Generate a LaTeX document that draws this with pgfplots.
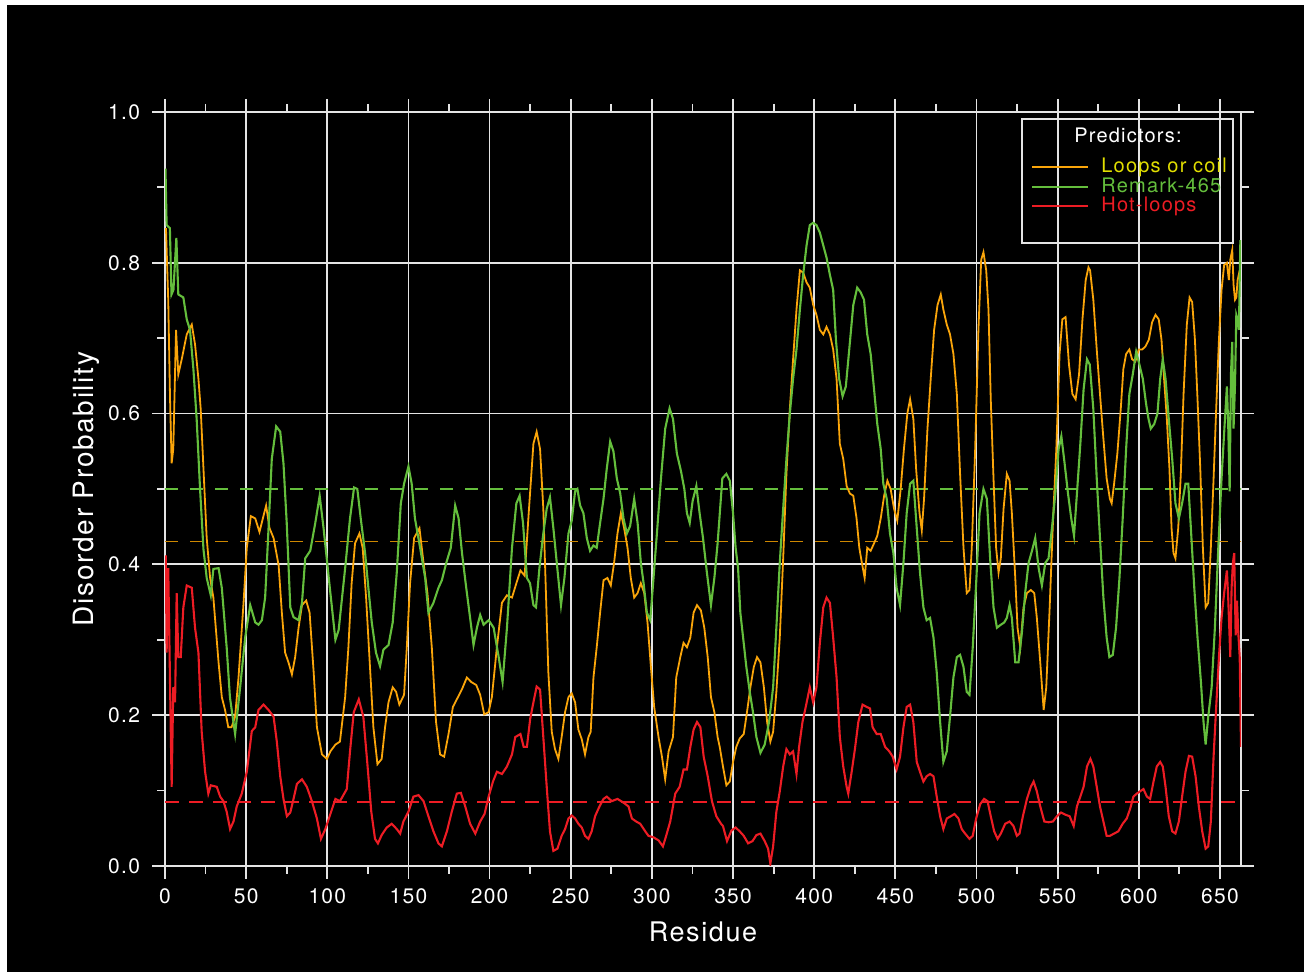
\documentclass[border=0pt]{standalone}
\usepackage{fontspec}
\setmainfont[LetterSpace=6]{TeX Gyre Heros}
\usepackage{pgfplots}
\pgfplotsset{compat=1.18}
\definecolor{cOrange}{RGB}{250,165,10}
\definecolor{cOrangeD}{RGB}{205,135,0}
\definecolor{cGreen}{RGB}{100,190,60}
\definecolor{cRed}{RGB}{237,28,36}
\definecolor{cYellow}{RGB}{225,222,0}
\definecolor{gridc}{RGB}{228,228,228}

\pgfplotstableread{
x y
0.6 0.846
2 0.75
3.1 0.62
4.1 0.534
5.1 0.553
6.8 0.711
8.2 0.652
10.3 0.672
13.4 0.705
16.5 0.718
18.5 0.692
20.6 0.646
22 0.606
23.7 0.527
25.7 0.435
27.8 0.382
29.8 0.356
33 0.27
35 0.224
37 0.207
39 0.184
41 0.184
43.2 0.198
45.3 0.25
48.4 0.349
50.4 0.422
52.9 0.464
55.6 0.461
58.2 0.443
60.3 0.461
62.3 0.478
64.4 0.448
66.9 0.435
70 0.399
72 0.336
74 0.283
76.1 0.27
78.2 0.254
80.2 0.277
82.3 0.316
84.4 0.346
87 0.352
89.1 0.336
91.6 0.257
93.6 0.184
96.7 0.148
99.8 0.142
101.9 0.152
105 0.161
107.8 0.165
111 0.224
113 0.29
115 0.375
117.1 0.428
119.8 0.441
121.8 0.422
123.9 0.356
126.3 0.264
128.4 0.184
130.9 0.135
133.5 0.142
135.6 0.184
137.7 0.217
140.3 0.237
142.4 0.231
144.4 0.214
147.3 0.227
149 0.29
151 0.375
153.5 0.435
156.8 0.448
159.3 0.402
161.7 0.362
164.4 0.29
167 0.191
169.5 0.148
172 0.145
174.7 0.175
177.4 0.211
179.8 0.221
182.9 0.234
186 0.25
188.7 0.244
191.8 0.240
194.2 0.227
196.7 0.201
199.4 0.204
201.4 0.224
204.5 0.29
207.6 0.349
210.7 0.359
213.8 0.356
216.5 0.375
219 0.392
221.6 0.385
224.1 0.468
227 0.56
229 0.576
231.1 0.553
233.1 0.474
234.8 0.356
236.2 0.257
238.3 0.178
240.3 0.155
242.4 0.142
244.4 0.171
246.5 0.204
248.6 0.224
250.6 0.229
252.7 0.217
254.7 0.181
256.8 0.168
258.8 0.148
260.9 0.171
262.3 0.178
264 0.25
266 0.29
268.1 0.336
270.2 0.379
272.6 0.382
274.7 0.372
276.7 0.402
278.8 0.441
280.9 0.468
282.9 0.448
285 0.422
287 0.382
289.1 0.356
291.2 0.362
293.2 0.375
295.3 0.362
297.3 0.323
299.4 0.264
301.4 0.211
304.1 0.171
306.2 0.145
308.2 0.115
310.3 0.152
313 0.171
315 0.25
317.5 0.277
319.5 0.296
321.6 0.29
323.7 0.303
325.7 0.336
327.8 0.346
330.2 0.339
332.3 0.316
334.4 0.277
336.4 0.224
338.5 0.204
340.5 0.171
341.8 0.158
343.8 0.132
345.9 0.107
348 0.112
350 0.138
352 0.158
354.1 0.169
356.6 0.175
358.6 0.204
360.7 0.237
362.8 0.264
364.8 0.277
366.9 0.27
369 0.237
371 0.191
373 0.165
374.7 0.178
376.7 0.231
378.8 0.303
380.9 0.408
382.9 0.52
385 0.606
387 0.672
389.1 0.738
391.2 0.79
393.2 0.787
395.3 0.774
397.3 0.767
399.4 0.744
401.4 0.731
403.5 0.711
405.6 0.705
407.6 0.715
409.7 0.705
411.7 0.685
413.8 0.646
415.8 0.56
417.9 0.54
420 0.504
422 0.494
424.1 0.491
426.1 0.461
427.8 0.422
429.4 0.402
431.1 0.382
432.7 0.422
434.8 0.418
436.9 0.428
438.9 0.438
441 0.461
443.1 0.491
445.1 0.511
447.1 0.5
449.2 0.474
451.2 0.458
453.3 0.5
455.3 0.553
457.4 0.6
459.1 0.619
461.1 0.593
462.8 0.527
464.9 0.468
466.3 0.445
467.7 0.487
469.8 0.58
471.8 0.646
473.9 0.711
476 0.744
478 0.758
479.6 0.738
481.7 0.718
483.7 0.705
485.8 0.679
487.9 0.626
489.9 0.52
492 0.422
494 0.362
495.7 0.366
497.1 0.422
499.2 0.553
501.2 0.711
502.9 0.804
504.3 0.814
506 0.79
507.4 0.738
508.8 0.619
510.5 0.514
512.1 0.422
513.6 0.389
515 0.408
516.7 0.474
518.7 0.52
520.4 0.511
521.8 0.468
523.9 0.382
525.3 0.316
527 0.29
529 0.343
531.1 0.362
533.5 0.366
535.6 0.362
537.2 0.329
539.3 0.27
541.4 0.207
543 0.237
545.1 0.343
547.1 0.455
549.2 0.553
551.2 0.679
552.9 0.725
554.9 0.728
557 0.665
559.1 0.626
561.1 0.619
563.2 0.652
565.3 0.725
567.3 0.777
569 0.794
570 0.79
572 0.751
574.1 0.685
576.1 0.626
578.2 0.567
580.2 0.514
582.2 0.487
583.3 0.481
584.8 0.507
586.8 0.547
588.9 0.606
590.5 0.659
592.2 0.679
594.2 0.685
595.9 0.672
597.9 0.669
600 0.685
602.1 0.685
604.1 0.689
606.2 0.698
608.2 0.721
610.3 0.731
612.3 0.725
614 0.698
615.6 0.646
617.3 0.593
618.9 0.527
620.2 0.448
621.4 0.415
622.6 0.408
624.3 0.448
625.9 0.52
627.6 0.626
629.6 0.718
631.3 0.754
632.9 0.748
634.6 0.698
636.2 0.619
637.9 0.527
639.5 0.422
641.2 0.343
642.8 0.349
644.4 0.422
646.1 0.514
647.7 0.606
649.4 0.698
651 0.764
652.6 0.797
654.3 0.8
655.5 0.777
656.4 0.804
657.6 0.817
658.4 0.771
659.3 0.751
660.1 0.754
660.9 0.777
662.2 0.79
}\loops

\pgfplotstableread{
x y
0.3 0.925
1 0.85
3 0.846
4 0.758
5.2 0.764
7 0.833
8.2 0.758
11.3 0.754
13.4 0.725
15.4 0.711
17.5 0.659
19.5 0.593
21.6 0.5
23.7 0.42
25.7 0.382
28.2 0.359
29.8 0.394
33 0.395
35 0.369
38 0.29
40 0.224
43.2 0.175
46.3 0.237
49.4 0.303
52.5 0.346
55.6 0.323
57.6 0.32
59.7 0.326
61.7 0.356
63.8 0.448
65.8 0.54
68.5 0.583
71 0.576
73 0.534
75 0.455
77.2 0.343
79.2 0.33
82.3 0.326
84.4 0.349
86.4 0.408
89.5 0.418
92.6 0.455
95.3 0.491
97.7 0.448
101.9 0.362
105 0.3
107 0.313
111 0.395
114 0.461
116.5 0.502
118.5 0.5
120.6 0.461
123.3 0.415
125.3 0.369
127.4 0.323
130 0.283
132.5 0.265
134.6 0.287
137.7 0.293
140.3 0.323
142.8 0.389
145.3 0.481
147.3 0.507
150 0.530
152 0.507
154 0.461
157.2 0.422
160.3 0.382
162.3 0.336
165.4 0.349
168.5 0.369
170.6 0.379
173.3 0.402
176.1 0.422
178.8 0.478
180.9 0.461
183 0.415
185.6 0.369
188 0.329
190.1 0.293
192.2 0.316
194.2 0.333
196.3 0.320
199.4 0.326
202.5 0.316
205.6 0.277
208 0.244
210.7 0.316
213.8 0.422
216.5 0.481
218.5 0.491
220.6 0.455
223 0.382
224.9 0.375
227 0.346
228.6 0.343
230.7 0.395
233.1 0.441
235.2 0.474
237.2 0.489
239.3 0.448
241.4 0.402
244 0.346
246.1 0.382
248.6 0.441
250.6 0.458
252.7 0.497
254.1 0.5
255.8 0.478
257.8 0.468
259.9 0.435
261.9 0.418
264 0.425
266 0.422
268.1 0.455
270.2 0.487
272.2 0.527
274.3 0.563
276.3 0.55
278.4 0.514
280.5 0.494
282.5 0.461
284.6 0.441
286.6 0.451
289.1 0.487
291.2 0.455
293.2 0.402
294.9 0.375
296.9 0.336
299 0.326
301 0.382
303.1 0.441
305.6 0.514
308.2 0.58
310.9 0.607
313 0.593
315.4 0.547
317.9 0.524
320 0.5
321.6 0.468
323.3 0.455
325.1 0.484
327.4 0.504
329.4 0.468
331.5 0.435
333.9 0.389
336.4 0.346
338.5 0.382
340.5 0.428
343.4 0.514
345.9 0.52
348 0.511
350 0.468
351.6 0.422
353.1 0.395
354.5 0.336
356.2 0.303
358.2 0.264
360.3 0.231
362.3 0.204
364.4 0.171
366.9 0.150
369.5 0.161
372.2 0.191
374.7 0.237
376.7 0.316
378.8 0.402
380.9 0.474
382.9 0.54
385 0.6
387 0.646
389.1 0.685
391.2 0.738
393.2 0.784
395.3 0.823
397.3 0.85
399.4 0.853
401.4 0.85
403.5 0.84
405.6 0.823
407.6 0.807
409.7 0.784
411.7 0.764
413.4 0.698
415.4 0.646
417.5 0.623
419.5 0.636
421.6 0.685
424.1 0.744
426.5 0.767
428.6 0.761
430.7 0.751
432.7 0.705
434.8 0.679
436.9 0.632
438.9 0.586
441 0.553
442.6 0.507
444.7 0.487
446.7 0.441
448.8 0.415
450.8 0.369
452.9 0.346
455 0.402
457 0.468
459.1 0.507
461.1 0.511
463.2 0.448
465.2 0.389
467.3 0.343
469.3 0.326
471.4 0.329
473.5 0.303
475.5 0.257
477.6 0.191
479.6 0.138
481.7 0.152
483.7 0.198
485.8 0.25
487.9 0.277
489.9 0.28
492 0.264
494 0.231
495.7 0.227
497.7 0.29
499.8 0.375
501.9 0.468
504.3 0.5
506.4 0.487
508.4 0.408
510.5 0.343
512.6 0.316
515 0.320
517.1 0.323
518.7 0.329
520.4 0.346
521.8 0.329
523.9 0.27
525.9 0.27
528 0.310
530 0.362
532.1 0.402
534.2 0.418
536.2 0.435
538.3 0.395
540.3 0.372
542.4 0.402
544.4 0.408
546.5 0.448
548.6 0.494
550.6 0.553
552.3 0.570
554.3 0.534
556.4 0.494
558.4 0.461
560.1 0.438
561.9 0.494
564 0.56
566 0.632
568.1 0.672
569.8 0.665
572 0.606
574.1 0.514
576.1 0.435
578.2 0.356
580.2 0.303
581.9 0.277
584 0.28
586 0.316
588.1 0.382
590.1 0.461
592.2 0.553
594.2 0.626
596.3 0.652
598.4 0.682
600.4 0.665
602.5 0.646
604.5 0.613
606 0.593
607.4 0.580
609.5 0.586
611.5 0.6
613.2 0.646
614.8 0.672
616.5 0.646
618.5 0.593
620.6 0.54
622.6 0.481
624.7 0.461
626.7 0.481
628.8 0.507
630.5 0.507
632.1 0.448
634.2 0.369
636.2 0.303
638.3 0.244
639.9 0.191
641.2 0.161
642.8 0.198
644.9 0.237
646.9 0.316
649 0.422
651 0.514
653.1 0.593
654.3 0.636
655.1 0.586
656 0.497
656.8 0.652
657.6 0.695
658.4 0.58
659.3 0.639
660.1 0.731
660.9 0.725
661.7 0.711
662.6 0.83
}\remark

\pgfplotstableread{
x y
0.5 0.412
1 0.283
2 0.395
3 0.257
4.1 0.105
5.1 0.237
6.2 0.217
7.2 0.362
8.2 0.277
9.7 0.277
11.3 0.343
13.4 0.372
16.5 0.369
18.5 0.316
20.6 0.283
22.6 0.178
24.7 0.125
26.7 0.096
28.2 0.107
31.9 0.105
34 0.092
36 0.086
38 0.072
40.1 0.049
42.2 0.059
44.2 0.079
47.3 0.096
50.4 0.125
53.5 0.179
55.6 0.184
57.6 0.207
60.7 0.214
63.8 0.207
66.9 0.198
68.9 0.165
71 0.119
73 0.089
75.1 0.066
77.2 0.071
79.2 0.089
81.3 0.109
84.4 0.115
87.4 0.105
90.5 0.086
93.6 0.063
96.1 0.036
98.8 0.049
101.9 0.069
105 0.089
107.8 0.086
112 0.102
114 0.152
116.3 0.204
119.4 0.221
122.2 0.198
124.6 0.138
127.1 0.072
129.4 0.036
131.2 0.030
133.5 0.041
136.6 0.051
139.7 0.056
142.8 0.049
144.9 0.043
146.9 0.059
150 0.072
153.1 0.092
156.2 0.094
159.3 0.086
162.3 0.066
165.4 0.046
168.5 0.030
170.6 0.026
173.7 0.046
176.7 0.072
179.8 0.096
182.3 0.097
185 0.079
188 0.056
191.2 0.043
194.2 0.059
196.9 0.069
199.4 0.092
202.1 0.112
204.5 0.125
207.6 0.122
210.7 0.132
213.8 0.148
215.8 0.171
219 0.175
221 0.158
223 0.158
225 0.195
227 0.217
229 0.238
231.1 0.234
233.1 0.171
235.2 0.105
237.2 0.046
239.3 0.020
241.8 0.023
244.4 0.040
246.5 0.049
248.6 0.063
250.6 0.067
252.7 0.063
254.7 0.056
256.8 0.051
258.8 0.040
260.9 0.036
262.9 0.046
265 0.066
267.7 0.079
270.2 0.089
272.2 0.092
275.3 0.086
278.8 0.089
282.5 0.084
285.6 0.079
287.7 0.063
290.3 0.059
292.8 0.056
295.9 0.046
297.9 0.040
301 0.038
304.1 0.034
306.8 0.026
308.8 0.040
311.3 0.059
314.4 0.096
317.1 0.105
319.5 0.128
321.6 0.128
323.7 0.158
325.7 0.181
327.8 0.191
329.9 0.184
331.9 0.145
334.4 0.119
337 0.086
339.7 0.066
342.6 0.056
343.8 0.053
346.3 0.033
349 0.047
351.6 0.051
354.1 0.046
356.6 0.040
359.3 0.030
362 0.033
364.4 0.041
366.9 0.043
369.5 0.033
371.6 0.023
373 0.003
374.7 0.026
376.7 0.072
378.8 0.099
380.9 0.132
382.9 0.155
385 0.148
387 0.152
389.1 0.122
390.7 0.158
392.8 0.191
394.8 0.211
397.3 0.237
399.4 0.217
401.4 0.237
403.5 0.296
405.6 0.343
407.6 0.356
409.7 0.349
411.7 0.303
413.8 0.25
415.8 0.171
417.9 0.132
420 0.105
421 0.096
423.1 0.125
425.1 0.155
427.2 0.191
429.8 0.214
432.3 0.211
434.4 0.209
436 0.184
438.5 0.175
441 0.175
443.7 0.158
446.3 0.152
448.4 0.145
450.8 0.128
452.9 0.145
455 0.184
457 0.211
459.1 0.214
461.1 0.191
463.2 0.138
465.2 0.125
467.3 0.112
469.3 0.119
471.4 0.122
473.5 0.119
475.5 0.092
477.6 0.066
479.6 0.049
481.7 0.063
484.2 0.066
486.4 0.069
488.9 0.063
490.9 0.049
493 0.043
495.7 0.036
497.7 0.040
499.8 0.063
502.3 0.082
504.7 0.089
506.8 0.086
508.8 0.066
510.9 0.046
513 0.036
515 0.043
517.7 0.056
520.4 0.059
522.8 0.053
524.9 0.040
526.5 0.043
528.6 0.066
531.1 0.089
533.5 0.105
535.2 0.112
537.2 0.099
539.3 0.079
541.8 0.059
544.4 0.058
547.1 0.059
549.6 0.066
552.1 0.071
554.8 0.068
557.4 0.066
559.9 0.053
561.9 0.079
564 0.092
566 0.105
568.1 0.132
570.2 0.142
572 0.132
574.1 0.105
576.1 0.079
578.2 0.059
580.2 0.040
582.2 0.040
584.8 0.043
587.4 0.046
590.1 0.056
592.6 0.063
594.7 0.076
596.7 0.092
598.8 0.096
600.8 0.099
602.9 0.102
605 0.092
607 0.089
609.1 0.112
611.1 0.132
613.2 0.138
614.8 0.132
616.5 0.105
618.5 0.066
620.6 0.046
622.6 0.043
624.7 0.059
626.7 0.092
628.8 0.125
630.9 0.146
632.9 0.145
635 0.119
637 0.079
639.1 0.046
641.2 0.023
642.8 0.026
644.4 0.059
646.1 0.145
647.7 0.211
649.4 0.277
651 0.329
652.6 0.362
654.3 0.392
655.1 0.356
656.4 0.277
657.2 0.369
658 0.402
658.8 0.415
659.7 0.306
660.5 0.352
661.3 0.310
662.2 0.277
663 0.158
}\hotloops

\begin{document}
\begin{tikzpicture}[x=1pt,y=1pt]
\useasboundingbox (0,0) rectangle (652,486);
\fill[white] (0,0) rectangle (652,486);
\fill[black] (3.5,0) rectangle (652,483.5);
\begin{axis}[
  at={(82.5pt,53pt)}, anchor=south west,
  scale only axis, width=538pt, height=377pt,
  xmin=0, xmax=663, ymin=0, ymax=1,
  xtick={0,50,...,650},
  ytick={0,0.2,0.4,0.6,0.8,1.0},
  minor x tick num=1, minor y tick num=1,
  tick align=outside,
  major tick length=6.5pt, minor tick length=4pt,
  grid=major,
  major grid style={gridc, line width=0.9pt},
  axis line style={gridc, line width=0.9pt},
  every tick/.style={gridc, line width=0.9pt},
  /pgf/number format/assume math mode=true,
  ticklabel style={font=\fontsize{10.5}{12}\selectfont, text=white},
  yticklabel style={xshift=-2.5pt, /pgf/number format/.cd, fixed, fixed zerofill, precision=1},
  xticklabel style={yshift=-1.5pt, /pgf/number format/.cd, fixed, precision=0},
]
\addplot[cOrangeD, line width=0.55pt, dash pattern=on 6.5pt off 6pt] coordinates {(0,0.43) (663,0.43)};
\addplot[cGreen, line width=0.9pt, dash pattern=on 6.5pt off 6pt] coordinates {(0,0.5) (663,0.5)};
\addplot[cRed, line width=0.9pt, dash pattern=on 7pt off 5pt] coordinates {(0,0.085) (663,0.085)};
\addplot[cOrange, line width=0.9pt] table[x=x,y=y] {\loops};
\addplot[cGreen, line width=1.05pt] table[x=x,y=y] {\remark};
\addplot[cRed, line width=1.05pt] table[x=x,y=y] {\hotloops};
\end{axis}
\node[rotate=90, anchor=base, text=white, font=\fontsize{14}{16}\selectfont] at (46.5,241.5) {Disorder Probability};
\node[anchor=base, text=white, font=\fontsize{13.5}{16}\selectfont] at (351.5,15) {Residue};
\draw[gridc, line width=0.9pt] (511,364.5) rectangle (616.5,426.5);
\node[anchor=base, text=white, inner sep=0, font=\fontsize{10}{12}\selectfont] at (564,414.5) {Predictors:};
\draw[cOrange, line width=0.8pt] (516,402.5) -- (544,402.5);
\draw[cGreen, line width=1pt] (516,392.5) -- (544,392.5);
\draw[cRed, line width=1pt] (516,383) -- (544,383);
\node[anchor=base west, text=cYellow, inner sep=0, font=\fontsize{10}{12}\selectfont] at (550.5,399.5) {Loops or coil};
\node[anchor=base west, text=cGreen, inner sep=0, font=\fontsize{10}{12}\selectfont] at (550.5,389.5) {Remark-465};
\node[anchor=base west, text=cRed, inner sep=0, font=\fontsize{10}{12}\selectfont] at (550.5,380) {Hot-loops};
\end{tikzpicture}
\end{document}
